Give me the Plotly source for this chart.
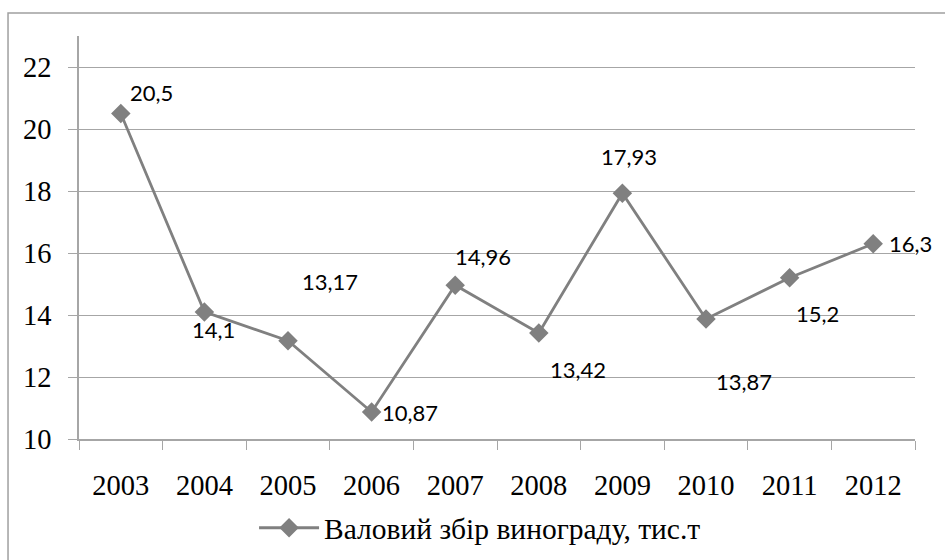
import plotly.graph_objects as go

years = ["2003", "2004", "2005", "2006", "2007", "2008", "2009", "2010", "2011", "2012"]
values = [20.5, 14.1, 13.17, 10.87, 14.96, 13.42, 17.93, 13.87, 15.2, 16.3]
labels = ["20,5", "14,1", "13,17", "10,87", "14,96", "13,42", "17,93", "13,87", "15,2", "16,3"]
series_name = "Валовий збір винограду, тис.т"

# label offsets (pixels, x right, y up)
label_dx = [31, 9, 42, 38, 28, 39, 7, 38, 28, 37]
label_dy = [21, -18, 59, 0, 29, -37, 37, -62, -36, 0]

GRAY = "#808080"
AX = "#a6a6a6"

fig = go.Figure()
fig.add_trace(go.Scatter(
    x=years, y=values, mode="lines+markers", name=series_name,
    line=dict(color=GRAY, width=2.8),
    marker=dict(symbol="diamond", size=15, color=GRAY),
))

for i, (y, t, dx, dy) in enumerate(zip(values, labels, label_dx, label_dy)):
    fig.add_annotation(x=i, y=y, xref="x", yref="y", text=t, showarrow=False,
                       xshift=dx, yshift=dy,
                       font=dict(family="Lato", size=22, color="black"))

fig.add_shape(type="rect", xref="paper", yref="paper",
              x0=-0.0849, x1=1.04, y0=-0.31, y1=1.0571,
              line=dict(color="#a0a0a0", width=1.5), layer="below")

fig.update_layout(
    width=945, height=560,
    margin=dict(l=79, r=30, t=36, b=121, autoexpand=False),
    paper_bgcolor="white", plot_bgcolor="white",
    showlegend=True,
    legend=dict(xref="container", yref="container", x=0.508, xanchor="center",
                y=0.057, yanchor="middle",
                orientation="h", itemwidth=60,
                font=dict(family="Liberation Serif", size=29.5, color="black")),
    xaxis=dict(type="category", range=[-0.5, 9.5], showgrid=False, automargin=False,
               showline=True, linecolor=AX, linewidth=1.5,
               ticks="outside", tickson="boundaries", ticklen=9, tickcolor=AX,
               ticklabelstandoff=20,
               tickfont=dict(family="Liberation Serif", size=28.5, color="black")),
    yaxis=dict(range=[10, 23], tick0=10, dtick=2, showgrid=True, gridcolor=AX,
               gridwidth=1, showline=True, linecolor=AX, linewidth=1.5,
               ticks="outside", ticklen=9, tickcolor=AX, zeroline=False,
               ticklabelstandoff=11, automargin=False,
               tickfont=dict(family="Liberation Serif", size=28.5, color="black")),
)

fig.write_html("out.html", config={"displayModeBar": False},
               post_script="document.body.style.margin='0';document.body.style.overflow='hidden';")
